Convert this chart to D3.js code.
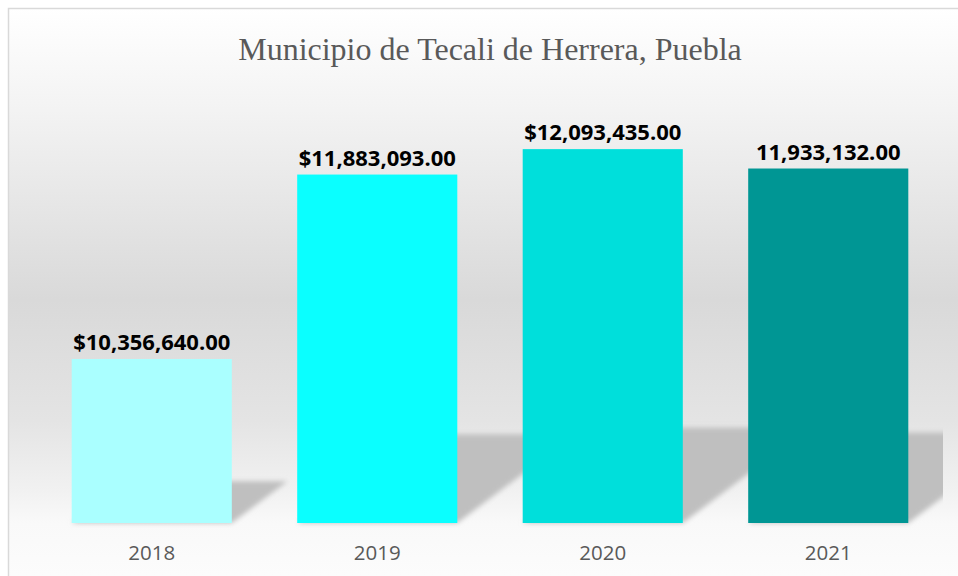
<!DOCTYPE html>
<html>
<head>
<meta charset="utf-8">
<script src="https://cdn.jsdelivr.net/npm/d3@7"></script>
<style>
  body { margin: 0; background: #ffffff; }
  svg { display: block; }
</style>
</head>
<body>
<svg id="bar"></svg>
<script>
const years = ['2018', '2019', '2020', '2021'];
const amounts = [10356640, 11883093, 12093435, 11933132];
const labels = ['$10,356,640.00', '$11,883,093.00', '$12,093,435.00', '11,933,132.00'];
const colors = ['#aaffff', '#0affff', '#00dfdb', '#009694'];
const title = 'Municipio de Tecali de Herrera, Puebla';

function drawBar(width, height) {
  const data = years.map((y, i) => ({year: y, amount: amounts[i], label: labels[i], color: colors[i]}));

  const svg = d3.select('#bar')
    .attr('width', width)
    .attr('height', height)
    .attr('viewBox', `0 0 ${width} ${height}`);

  const defs = svg.append('defs');

  // background gradient like the original chart area
  const grad = defs.append('linearGradient')
    .attr('id', 'bg')
    .attr('gradientUnits', 'userSpaceOnUse')
    .attr('x1', 0).attr('y1', 8).attr('x2', 0).attr('y2', 576);
  [[8, '#ffffff'], [110, '#f3f3f3'], [300, '#d9d9d9'], [420, '#e4e4e4'], [490, '#f1f1f1'], [523, '#f9f9f9'], [576, '#fcfcfc']]
    .forEach(s => grad.append('stop').attr('offset', (s[0] - 8) / 568).attr('stop-color', s[1]));

  defs.append('filter')
    .attr('id', 'blur')
    .attr('x', '-20%').attr('y', '-20%').attr('width', '140%').attr('height', '140%')
    .append('feGaussianBlur').attr('stdDeviation', 2.6);

  defs.append('clipPath').attr('id', 'plotClip')
    .append('rect').attr('x', 20).attr('y', 80).attr('width', 923).attr('height', 460);

  svg.append('rect')
    .attr('x', 8.5).attr('y', 8.5)
    .attr('width', width + 10).attr('height', height + 10)
    .attr('fill', 'url(#bg)')
    .attr('stroke', '#d9d9d9')
    .attr('stroke-width', 1.5);

  svg.append('text')
    .attr('x', 490)
    .attr('y', 60)
    .attr('text-anchor', 'middle')
    .attr('font-family', '"Liberation Serif", "Times New Roman", serif')
    .attr('font-size', 32)
    .attr('fill', '#595959')
    .text(title);

  const xScale = d3.scaleBand()
    .range([39, 941])
    .domain(years)
    .paddingInner(0.29)
    .paddingOuter(0.145);

  const yScale = d3.scaleLinear()
    .range([523, 100])
    .domain([9000000, 12500000]);

  const base = yScale.range()[0];

  // perspective shadows behind the bars
  const shadows = svg.append('g')
    .attr('clip-path', 'url(#plotClip)')
    .append('g')
    .attr('filter', 'url(#blur)');

  shadows.selectAll('polygon')
    .data(data)
    .enter()
    .append('polygon')
    .attr('fill', '#bfbfbf')
    .attr('points', d => {
      const x0 = xScale(d.year);
      const x1 = x0 + xScale.bandwidth();
      const h = (base - yScale(d.amount)) * 0.255;
      const s = h * 1.33;
      return [[x0, base], [x1, base], [x1 + s, base - h], [x0 + s, base - h]].join(' ');
    });

  svg.append('g')
    .selectAll('rect')
    .data(data)
    .enter()
    .append('rect')
    .attr('x', d => xScale(d.year))
    .attr('y', d => yScale(d.amount))
    .attr('width', xScale.bandwidth())
    .attr('height', d => base - yScale(d.amount))
    .attr('fill', d => d.color);

  svg.append('g')
    .selectAll('text')
    .data(data)
    .enter()
    .append('text')
    .attr('x', d => xScale(d.year) + xScale.bandwidth() / 2)
    .attr('y', d => yScale(d.amount) - 9)
    .attr('text-anchor', 'middle')
    .attr('font-family', '"Open Sans", sans-serif')
    .attr('font-weight', 700)
    .attr('font-size', 22)
    .attr('fill', '#000000')
    .text(d => d.label);

  const xAxis = svg.append('g')
    .attr('transform', `translate(0, ${base})`)
    .call(d3.axisBottom(xScale).tickSize(0).tickPadding(22));
  xAxis.select('.domain').remove();
  xAxis.selectAll('text')
    .attr('font-family', '"Open Sans", sans-serif')
    .attr('font-size', 20.5)
    .attr('fill', '#595959');
}

drawBar(958, 576);
</script>
</body>
</html>
